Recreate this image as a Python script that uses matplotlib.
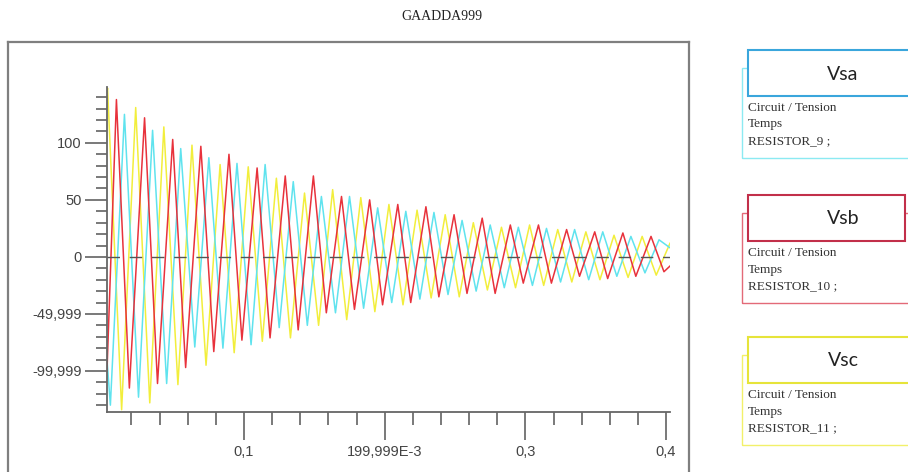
import numpy as np
import matplotlib
matplotlib.use("Agg")
import matplotlib.pyplot as plt
from matplotlib.patches import Rectangle
from matplotlib.lines import Line2D

# time window shown (s)
T_START = 0.0026
T_END = 0.4028
PERIOD = 0.02

# per-cycle extrema (V)
vsa_first_peak = 0.015
vsa_peaks = [125, 111, 95, 87, 82, 81, 66, 53, 53, 43, 40, 39, 32, 28, 26, 25, 24, 22, 18, 15]
vsa_first_trough = 0.005
vsa_troughs = [-130, -123, -111, -79, -80, -77, -62, -60, -49, -45, -40, -37, -33, -30, -27, -25, -22, -20, -17, -14]
vsa_ends = [-90, 8]

vsb_first_peak = 0.0093
vsb_peaks = [138, 122, 103, 97, 90, 78, 71, 71, 53, 50, 46, 44, 37, 34, 28, 28, 24, 22, 21, 18]
vsb_first_trough = 0.0185
vsb_troughs = [-115, -111, -97, -83, -73, -71, -64, -49, -46, -42, -40, -35, -32, -32, -23, -23, -17, -19, -17, -13]
vsb_ends = [-100, -8]

vsc_first_peak = 0.003
vsc_peaks = [148, 131, 114, 98, 81, 79, 69, 56, 59, 52, 46, 41, 37, 30, 26, 28, 24, 22, 19, 18]
vsc_first_trough = 0.013
vsc_troughs = [-134, -128, -112, -95, -84, -74, -71, -60, -55, -48, -42, -36, -35, -29, -27, -25, -22, -20, -18, -16]
vsc_ends = [145, 12]

y_ticks = [100, 50, 0, -50, -100]
y_labels = ["100", "50", "0", "-49,999", "-99,999"]
x_ticks = [0.1, 0.2, 0.3, 0.4]
x_labels = ["0,1", "199,999E-3", "0,3", "0,4"]

legend_names = ["Vsa", "Vsb", "Vsc"]
legend_resistors = ["RESISTOR_9 ;", "RESISTOR_10 ;", "RESISTOR_11 ;"]

C_CYAN = "#5fe3ee"
C_RED = "#e8323c"
C_YELLOW = "#f2ee3c"


def build_wave(first_peak, peaks, first_trough, troughs, ends):
    tp = first_peak + PERIOD * np.arange(len(peaks))
    tt = first_trough + PERIOD * np.arange(len(troughs))
    t = np.concatenate([[T_START], tp, tt, [T_END]])
    v = np.concatenate([[ends[0]], peaks, troughs, [ends[1]]])
    keep = (t >= T_START) & (t <= T_END)
    t, v = t[keep], v[keep]
    order = np.argsort(t)
    return t[order], v[order]


W, H = 908, 472
fig = plt.figure(figsize=(W / 100, H / 100), dpi=100)


def fx(px):
    return px / W


def fy(py):
    return 1 - py / H


ax = fig.add_axes([fx(107), fy(412), fx(670 - 107), (412 - 87) / H])

for args, col in [((vsc_first_peak, vsc_peaks, vsc_first_trough, vsc_troughs, vsc_ends), C_YELLOW),
                  ((vsa_first_peak, vsa_peaks, vsa_first_trough, vsa_troughs, vsa_ends), C_CYAN),
                  ((vsb_first_peak, vsb_peaks, vsb_first_trough, vsb_troughs, vsb_ends), C_RED)]:
    t, v = build_wave(*args)
    ax.plot(t, v, color=col, lw=1.1, solid_joinstyle="round")

ax.axhline(0, color="#555555", lw=1.0, ls=(0, (9, 7)), zorder=5)

ax.set_xlim(T_START, T_END)
ax.set_ylim(-136, 149)

ax.set_yticks(y_ticks)
ax.set_yticklabels(y_labels)
ax.set_yticks([v for v in range(-130, 150, 10) if v not in y_ticks], minor=True)
ax.set_xticks(x_ticks)
ax.set_xticklabels(x_labels)
ax.set_xticks([round(0.02 * k, 2) for k in range(1, 21) if k % 5 != 0], minor=True)

for s in ["top", "right"]:
    ax.spines[s].set_visible(False)
for s in ["left", "bottom"]:
    ax.spines[s].set_color("#666666")
    ax.spines[s].set_linewidth(1.3)

ax.tick_params(axis="y", which="major", length=16, width=1.1, color="#555555", pad=2,
               labelsize=10.5, labelcolor="#444444")
ax.tick_params(axis="y", which="minor", length=8, width=1.1, color="#555555")
ax.tick_params(axis="x", which="major", length=20, width=1.1, color="#555555", pad=4,
               labelsize=10.5, labelcolor="#444444")
ax.tick_params(axis="x", which="minor", length=9.5, width=1.1, color="#555555")
for lab in ax.get_xticklabels() + ax.get_yticklabels():
    lab.set_fontfamily("Liberation Sans")

# outer frame (bottom edge is cut off)
frame_kw = dict(transform=fig.transFigure, color="#7f7f7f", lw=1.6)
fig.add_artist(Line2D([fx(8), fx(8)], [fy(42), 0], **frame_kw))
fig.add_artist(Line2D([fx(8), fx(689)], [fy(42), fy(42)], **frame_kw))
fig.add_artist(Line2D([fx(689), fx(689)], [fy(42), 0], **frame_kw))

fig.text(fx(442), fy(17), "GAADDA999", ha="center", va="center",
         fontfamily="Liberation Serif", fontsize=10, color="#222222")

# legend boxes
legend_y = [50, 195, 337]
front_right = [912, 905, 912]
front_cols = ["#3aa6dc", "#c22f4a", "#e6e43a"]
back_cols = ["#8ceaf2", "#e36a78", "#f2f06a"]
for name, res, y0, xr, fc, bc in zip(legend_names, legend_resistors, legend_y, front_right,
                                     front_cols, back_cols):
    fig.add_artist(Rectangle((fx(742), fy(y0 + 108)), fx(170), (108 - 18) / H,
                             transform=fig.transFigure, fill=False, ec=bc, lw=1.0))
    fig.add_artist(Rectangle((fx(748), fy(y0 + 46)), fx(xr - 748), 46 / H,
                             transform=fig.transFigure, fc="white", ec=fc, lw=1.5))
    fig.text(fx(843), fy(y0 + 24), name, ha="center", va="center",
             fontfamily="Lato", fontsize=14, color="#222222")
    for i, line in enumerate(["Circuit / Tension", "Temps", res]):
        fig.text(fx(748), fy(y0 + 58 + 16.5 * i), line, ha="left", va="center",
                 fontfamily="Liberation Serif", fontsize=9.5, color="#333333")

fig.savefig("out.png", dpi=100)
